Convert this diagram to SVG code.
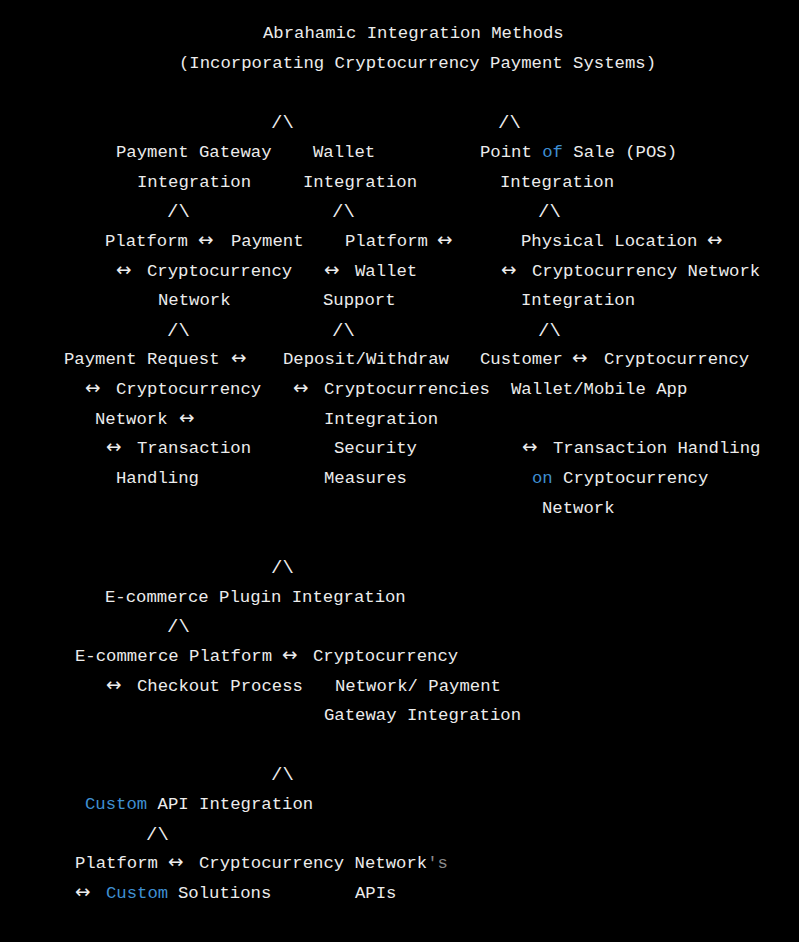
<svg xmlns="http://www.w3.org/2000/svg" width="799" height="942" viewBox="0 0 799 942">
  <style>
    text { font-family: "Liberation Mono", "DejaVu Sans Mono", monospace; font-size: 17.3px; fill: #ececec; white-space: pre; }
    .kw { fill: #3f8fd2; }
    .dim { fill: #8a8a8a; }
    .ar { font-family: "DejaVu Sans", sans-serif; font-size: 18.5px; }
    .up { font-size: 19px; }
  </style>
  <rect width="799" height="942" fill="#000000"/>

  <g id="title">
    <text x="263" y="38">Abrahamic Integration Methods</text>
    <text x="179" y="68">(Incorporating Cryptocurrency Payment Systems)</text>
  </g>

  <!-- "/\" links between levels -->
  <g id="connectors">
    <text class="up" x="271" y="128">/\</text>
    <text class="up" x="498" y="128">/\</text>
    <text class="up" x="167" y="217">/\</text>
    <text class="up" x="332" y="217">/\</text>
    <text class="up" x="538" y="217">/\</text>
    <text class="up" x="167" y="336">/\</text>
    <text class="up" x="332" y="336">/\</text>
    <text class="up" x="538" y="336">/\</text>
    <text class="up" x="271" y="573">/\</text>
    <text class="up" x="167" y="632">/\</text>
    <text class="up" x="271" y="780">/\</text>
    <text class="up" x="146" y="840">/\</text>
  </g>

  <g id="payment-gateway">
    <text x="116" y="157">Payment Gateway</text>
    <text x="137" y="187">Integration</text>
  </g>
  <g id="payment-gateway-flow">
    <text y="246"><tspan x="105">Platform</tspan><tspan class="ar" x="198">↔</tspan><tspan x="231">Payment</tspan></text>
    <text y="276"><tspan class="ar" x="116">↔</tspan><tspan x="147">Cryptocurrency</tspan></text>
    <text x="158" y="305">Network</text>
  </g>
  <g id="payment-gateway-detail">
    <text y="364"><tspan x="64">Payment Request</tspan><tspan class="ar" x="231">↔</tspan></text>
    <text y="394"><tspan class="ar" x="85">↔</tspan><tspan x="116">Cryptocurrency</tspan></text>
    <text y="424"><tspan x="95">Network</tspan><tspan class="ar" x="179">↔</tspan></text>
    <text y="453"><tspan class="ar" x="106">↔</tspan><tspan x="137">Transaction</tspan></text>
    <text x="116" y="483">Handling</text>
  </g>

  <g id="wallet">
    <text x="313" y="157">Wallet</text>
    <text x="303" y="187">Integration</text>
  </g>
  <g id="wallet-flow">
    <text y="246"><tspan x="345">Platform</tspan><tspan class="ar" x="437">↔</tspan></text>
    <text y="276"><tspan class="ar" x="324">↔</tspan><tspan x="355">Wallet</tspan></text>
    <text x="323" y="305">Support</text>
  </g>
  <g id="wallet-detail">
    <text x="283" y="364">Deposit/Withdraw</text>
    <text y="394"><tspan class="ar" x="293">↔</tspan><tspan x="324">Cryptocurrencies</tspan></text>
    <text x="324" y="424">Integration</text>
    <text x="334" y="453">Security</text>
    <text x="324" y="483">Measures</text>
  </g>

  <g id="pos">
    <text x="480" y="157">Point <tspan class="kw">of</tspan> Sale (POS)</text>
    <text x="500" y="187">Integration</text>
  </g>
  <g id="pos-flow">
    <text y="246"><tspan x="521">Physical Location</tspan><tspan class="ar" x="707">↔</tspan></text>
    <text y="276"><tspan class="ar" x="501">↔</tspan><tspan x="532">Cryptocurrency Network</tspan></text>
    <text x="521" y="305">Integration</text>
  </g>
  <g id="pos-detail">
    <text y="364"><tspan x="480">Customer</tspan><tspan class="ar" x="572">↔</tspan><tspan x="604">Cryptocurrency</tspan></text>
    <text x="511" y="394">Wallet/Mobile App</text>
    <text y="453"><tspan class="ar" x="522">↔</tspan><tspan x="553">Transaction Handling</tspan></text>
    <text x="532" y="483"><tspan class="kw">on</tspan> Cryptocurrency</text>
    <text x="542" y="513">Network</text>
  </g>

  <g id="ecommerce-plugin">
    <text x="105" y="602">E-commerce Plugin Integration</text>
  </g>
  <g id="ecommerce-flow">
    <text y="661"><tspan x="75">E-commerce Platform</tspan><tspan class="ar" x="282">↔</tspan><tspan x="313">Cryptocurrency</tspan></text>
    <text y="691"><tspan class="ar" x="106">↔</tspan><tspan x="137">Checkout Process</tspan></text>
    <text x="335" y="691">Network/ Payment</text>
    <text x="324" y="720">Gateway Integration</text>
  </g>

  <g id="custom-api">
    <text x="85" y="809"><tspan class="kw">Custom</tspan> API Integration</text>
  </g>
  <g id="custom-api-flow">
    <text y="868"><tspan x="75">Platform</tspan><tspan class="ar" x="168">↔</tspan><tspan x="199">Cryptocurrency Network</tspan><tspan class="dim">'s</tspan></text>
    <text y="898"><tspan class="ar" x="75">↔</tspan><tspan class="kw" x="106">Custom</tspan><tspan x="178">Solutions</tspan></text>
    <text x="355" y="898">APIs</text>
  </g>
</svg>
